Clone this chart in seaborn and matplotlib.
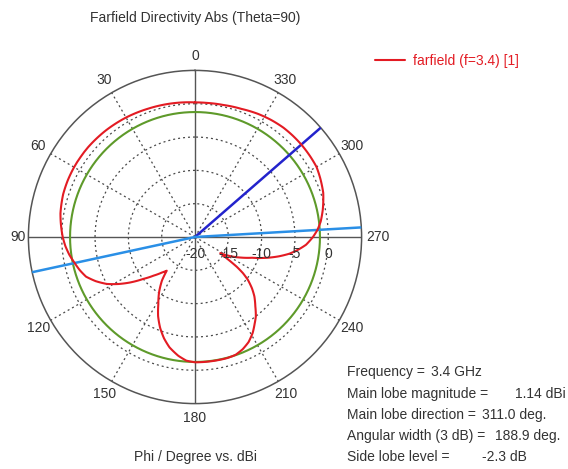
import numpy as np
import pandas as pd
import matplotlib
matplotlib.use("Agg")
import matplotlib.pyplot as plt
import seaborn as sns
from matplotlib.lines import Line2D

# ---------------- data ----------------
title = "Farfield Directivity Abs (Theta=90)"
xlabel = "Phi / Degree vs. dBi"
series_label = "farfield (f=3.4) [1]"

phi_deg = [0, 10, 20, 30, 40, 50, 60, 66, 72, 76, 80, 84, 87, 90, 94, 98,
           102, 106, 110, 114, 118, 121.5, 125, 129, 133, 137, 140, 142.8,
           147, 151.4, 155, 159, 163, 167, 172, 176, 180, 185, 190, 195, 199,
           203, 207, 211, 214.5, 217.5, 221, 225, 228, 231, 233, 234.5, 236,
           237.3, 239, 242, 246, 250, 254, 257, 260, 263, 266, 270, 273.3,
           277, 282, 289, 295, 300, 305, 311, 316, 321, 327, 333, 340, 348,
           355, 360]
directivity_db = [0.2, 0.35, 0.5, 0.7, 0.85, 0.95, 0.95, 0.9, 0.8, 0.65, 0.5,
                  0.25, 0.05, -0.15, -0.5, -0.95, -1.5, -2.0, -2.6, -3.7,
                  -5.0, -6.5, -8.1, -10.0, -11.5, -12.7, -13.4, -11.8, -10.1,
                  -8.5, -6.9, -5.4, -4.1, -3.0, -2.0, -1.4, -1.2, -1.2, -1.2,
                  -1.2, -1.3, -1.7, -2.3, -3.2, -4.2, -5.0, -6.2, -7.4, -8.5,
                  -9.8, -11.0, -12.3, -14.2, -15.5, -14.9, -13.8, -12.4,
                  -10.9, -8.7, -7.1, -5.6, -4.4, -3.3, -2.3, -1.6, -1.0, -0.4,
                  0.35, 0.75, 1.05, 1.1, 1.14, 1.13, 1.1, 0.95, 0.75, 0.45,
                  0.26, 0.2, 0.2]

main_lobe_dir = 311.0
beam_edges = [273.3, 102.2]
level_3db = -1.25
r_min, r_max = -20, 5
radial_ticks = [-20, -15, -10, -5, 0]
grid_circles = [-15, -10, -5, 0]
angle_ticks = list(range(0, 360, 30))

info_labels = ["Frequency =", "Main lobe magnitude =", "Main lobe direction =",
               "Angular width (3 dB) =", "Side lobe level ="]
info_values = ["3.4 GHz", "1.14 dBi", "311.0 deg.", "188.9 deg.", "-2.3 dB"]

# ---------------- style ----------------
sns.set_theme(style="white")
plt.rcParams["font.family"] = ["Liberation Sans", "DejaVu Sans"]
FS = 10
TXT = "#333333"
RED = "#e31b23"
GREEN = "#5e9a2a"
BLUE = "#2323cc"
LBLUE = "#2a8fe6"
GRID = "#4a4a4a"

W, H = 568, 469
fig = plt.figure(figsize=(W / 100, H / 100), dpi=100)
cx, cy, R = 195.0, 237.0, 166.6
ax = fig.add_axes([(cx - R) / W, (H - cy - R) / H, 2 * R / W, 2 * R / H],
                  projection="polar")
ax.set_theta_zero_location("N")
ax.set_theta_direction(1)
ax.set_ylim(r_min, r_max)
ax.set_xticks([])
ax.set_yticks([])
ax.grid(False)
ax.spines["polar"].set_color("#555555")
ax.spines["polar"].set_linewidth(1.1)

full = np.linspace(0, 2 * np.pi, 721)
for rc in grid_circles:
    ax.plot(full, np.full_like(full, rc), color=GRID, lw=0.9,
            ls=(0, (1.6, 2.4)), zorder=1)
for a in angle_ticks:
    t = np.deg2rad(a)
    if a % 90 == 0:
        ax.plot([t, t], [r_min, r_max], color="#555555", lw=1.0, zorder=1)
    else:
        ax.plot([t, t], [r_min, r_max], color=GRID, lw=0.9,
                ls=(0, (1.6, 2.4)), zorder=1)

# 3 dB level circle
ax.plot(full, np.full_like(full, level_3db), color=GREEN, lw=1.5, zorder=2)

# pattern
df = pd.DataFrame({"phi": np.deg2rad(phi_deg), "dB": directivity_db})
sns.lineplot(data=df, x="phi", y="dB", sort=False, estimator=None, ax=ax,
             color=RED, lw=1.5, zorder=4)
pattern_line = ax.lines[-1]
pattern_line.get_path()._interpolation_steps = 24  # draw segments along polar arcs
ax.set_xlabel("")
ax.set_ylabel("")

# main lobe direction and beam-width limits
tm = np.deg2rad(main_lobe_dir)
ax.plot([tm, tm], [r_min, r_max], color=BLUE, lw=1.8, zorder=3)
for e in beam_edges:
    te = np.deg2rad(e)
    ax.plot([te, te], [r_min, r_max], color=LBLUE, lw=1.8, zorder=3)

# angle labels
px_per_db = R / (r_max - r_min)
for a in angle_ticks:
    dist = 181
    if a == 90:
        dist = 177
    elif a == 270:
        dist = 183
    ax.text(np.deg2rad(a), dist / px_per_db + r_min, str(a), ha="center",
            va="center", fontsize=FS, color=TXT, clip_on=False)

# radial labels
for v in radial_ticks:
    ax.annotate(str(v), xy=(np.deg2rad(270), v), xytext=(0, -17),
                textcoords="offset pixels", ha="center", va="center",
                fontsize=FS, color=TXT, annotation_clip=False, zorder=5)

# titles
fig.text(195 / W, 1 - 18 / H, title, ha="center", va="center",
         fontsize=FS, color=TXT)
fig.text(196 / W, 1 - 456.7 / H, xlabel, ha="center", va="center",
         fontsize=FS, color=TXT)

# legend
fig.add_artist(Line2D([375 / W, 405 / W], [1 - 60.5 / H] * 2,
                      transform=fig.transFigure, color=RED, lw=1.5))
fig.text(413 / W, 1 - 60.5 / H, series_label, ha="left", va="center",
         fontsize=FS, color=RED)

# info block
renderer = fig.canvas.get_renderer()
info_y = [372, 393.5, 415, 436, 457]
value_x = [421.7, 515, 475, 495, 481.7]
for lab, val, yy, xv in zip(info_labels, info_values, info_y, value_x):
    t = fig.text(346.7 / W, 1 - yy / H, lab, ha="left", va="center",
                 fontsize=FS, color=TXT)
    end_px = t.get_window_extent(renderer).x1
    x_val = max(xv, end_px + 6)
    fig.text(x_val / W, 1 - yy / H, val, ha="left", va="center",
             fontsize=FS, color=TXT)

fig.savefig("out.png", dpi=100)
